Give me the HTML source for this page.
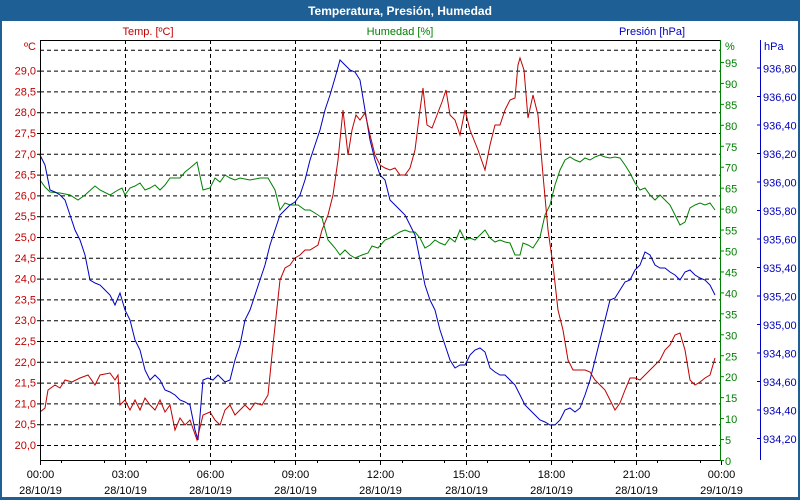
<!DOCTYPE html>
<html><head><meta charset="utf-8"><style>
body{margin:0;width:800px;height:500px;overflow:hidden;background:#fff}
svg{display:block;font-family:"Liberation Sans",Tahoma,sans-serif}
</style></head><body>
<svg id="s" width="800" height="500" xmlns="http://www.w3.org/2000/svg">
<rect x="0" y="0" width="800" height="500" fill="#1e5f96"/>
<rect x="2" y="21" width="796" height="476" fill="#fff"/>
<text x="400" y="15" text-anchor="middle" font-size="12" font-weight="bold" fill="#fff">Temperatura, Presión, Humedad</text>
<text x="148" y="35" text-anchor="middle" font-size="11" fill="#c00000">Temp. [ºC]</text>
<text x="400" y="35" text-anchor="middle" font-size="11" fill="#008000">Humedad [%]</text>
<text x="652" y="35" text-anchor="middle" font-size="11" fill="#0000c0">Presión [hPa]</text>
<text x="36" y="50" text-anchor="end" font-size="11" fill="#c00000">ºC</text>
<text x="725" y="50" font-size="11" fill="#008000">%</text>
<text x="764" y="50" font-size="11" fill="#0000c0">hPa</text>
<g id="g"></g>
<line x1="40.5" y1="40" x2="40.5" y2="460" stroke="#000"/>
<line x1="40" y1="40.5" x2="720" y2="40.5" stroke="#000"/>
<line x1="40" y1="460.5" x2="720" y2="460.5" stroke="#000"/>
<line x1="720.5" y1="40" x2="720.5" y2="461" stroke="#008000"/>
<line x1="760.5" y1="40" x2="760.5" y2="460" stroke="#0000c0"/>
</svg>
<script>
var g=document.getElementById('g'),h='';
for(var i=0;i<=19;i++){var y=445-i*20.8;h+='<line x1="40" x2="720" y1="'+(y+.5)+'" y2="'+(y+.5)+'" stroke="#000" stroke-dasharray="4,3"/>';
if(i<19){h+='<text x="36" y="'+(y+4)+'" text-anchor="end" font-size="11" fill="#c00000">'+(20+i*0.5).toFixed(1).replace('.',',')+'</text><line x1="37" x2="40" y1="'+(y+.5)+'" y2="'+(y+.5)+'" stroke="#000"/>';}}
for(var i=0;i<=8;i++){var x=40+i*85.1;x=Math.round(x)+.5;
if(i>0&&i<8)h+='<line x1="'+x+'" x2="'+x+'" y1="40" y2="460" stroke="#000" stroke-dasharray="4,3"/>';
var hh=(i*3)%24;var t=(hh<10?'0':'')+hh+':00';
h+='<line x1="'+x+'" x2="'+x+'" y1="460" y2="465" stroke="#000"/><text x="'+x+'" y="478" text-anchor="middle" font-size="11">'+t+'</text><text x="'+x+'" y="494" text-anchor="middle" font-size="11">'+(i==8?'29/10/19':'28/10/19')+'</text>';}
for(var i=0;i<16;i++){var x=Math.round(40+(i+.5)*42.55)+.5;h+='<line x1="'+x+'" x2="'+x+'" y1="460" y2="463" stroke="#000"/>';}
for(var v=0;v<=95;v+=5){var y=460-v*4.19;h+='<line x1="720" x2="724" y1="'+(y+.5)+'" y2="'+(y+.5)+'" stroke="#008000"/><text x="725" y="'+(y+5)+'" font-size="11" fill="#008000">'+v+'</text>';}
for(var k=0;k<=13;k++){var p=934.2+k*0.2,y=438-k*28.5;h+='<line x1="757" x2="761" y1="'+(y+.5)+'" y2="'+(y+.5)+'" stroke="#0000c0"/><text x="763" y="'+(y+5)+'" font-size="11" fill="#0000c0">'+p.toFixed(2).replace('.',',')+'</text>';}
var R="40,412 45,408 48,390 55,385 60,388 65,380 72,382 80,378 88,375 95,385 100,375 110,373 115,380 118,375 120,405 125,400 130,410 135,400 140,410 145,398 150,405 155,410 160,400 165,412 170,405 175,430 180,418 185,425 190,420 197,440 203,415 210,412 215,420 220,425 225,410 230,405 235,415 240,410 245,405 250,410 255,403 262,405 268,395 273,345 280,280 285,268 290,265 295,258 300,255 305,250 310,250 318,245 322,230 328,215 333,195 338,160 343,110 348,155 352,130 356,115 360,120 365,113 370,135 375,155 380,165 385,168 390,170 395,168 400,175 405,175 410,168 415,150 420,110 423,88 427,125 432,128 437,115 442,102 446,90 450,115 455,120 460,135 465,110 470,130 478,150 485,170 490,145 495,125 500,125 505,110 510,100 515,98 518,65 520,58 524,70 528,118 533,95 538,115 543,175 548,230 553,265 558,310 563,330 568,360 573,370 578,370 585,370 590,372 595,380 600,385 605,390 610,400 615,410 620,403 625,390 630,378 635,378 640,380 645,375 650,370 655,365 660,360 665,350 670,345 675,335 680,333 685,350 690,380 695,385 700,382 705,378 710,375 715,358";
var G="40,180 45,187 50,192 60,193 70,195 78,200 85,195 95,186 100,190 110,195 118,190 122,188 125,195 130,188 135,186 140,183 145,190 150,188 155,185 160,190 165,185 170,178 180,178 185,172 190,168 197,162 203,190 210,188 215,178 220,182 225,175 230,178 235,180 240,178 250,180 260,178 268,178 275,190 280,210 285,203 290,205 298,205 305,210 310,210 318,215 322,218 328,240 335,248 340,255 345,250 350,255 355,258 362,255 368,253 372,246 378,248 385,240 390,238 395,235 400,232 405,230 410,232 415,232 420,238 425,248 430,245 435,240 440,243 445,245 450,238 455,242 460,230 465,240 470,238 475,240 480,235 485,230 490,238 495,242 500,240 505,242 510,243 515,255 520,255 523,243 528,245 533,248 540,237 545,215 550,205 555,185 560,170 565,160 570,157 575,160 580,162 585,158 590,160 595,157 600,155 605,157 610,158 615,157 620,158 625,165 630,173 635,183 640,190 645,188 650,195 655,200 660,195 665,200 670,205 675,215 680,225 685,222 690,208 695,205 700,203 705,205 710,203 715,210";
var B="40,155 45,165 50,190 55,192 60,195 65,200 70,215 75,230 80,240 85,255 90,280 95,283 100,285 105,290 110,295 115,305 120,293 125,310 130,320 135,340 140,350 145,370 150,380 155,375 160,380 165,390 170,392 175,395 180,400 185,402 190,405 195,430 198,440 203,380 208,378 213,380 218,375 225,382 230,380 235,360 240,345 245,320 250,310 255,295 260,280 265,265 270,245 275,230 280,215 285,210 290,205 295,202 300,195 305,180 310,160 315,145 320,130 325,110 330,95 335,78 340,60 345,65 350,70 355,72 360,80 365,110 370,140 375,160 380,175 385,180 390,200 395,205 400,210 405,215 410,225 415,235 420,260 425,285 430,300 435,310 440,330 445,345 450,360 455,368 460,365 465,365 470,355 475,350 480,348 485,352 490,368 495,372 500,375 505,375 510,380 515,385 520,395 525,405 530,410 535,415 540,420 545,422 550,425 555,425 560,420 565,410 570,408 575,412 580,408 585,395 590,380 595,360 600,340 605,320 610,300 615,298 620,290 625,282 630,280 635,270 640,265 645,252 650,255 655,265 660,268 665,268 670,272 675,275 680,280 685,272 690,270 695,275 700,278 705,280 710,285 715,295";
h+='<polyline points="'+G+'" fill="none" stroke="#008000"/>';
h+='<polyline points="'+B+'" fill="none" stroke="#0000c0"/>';
h+='<polyline points="'+R+'" fill="none" stroke="#c00000"/>';
g.innerHTML=h;
</script>
</body></html>
